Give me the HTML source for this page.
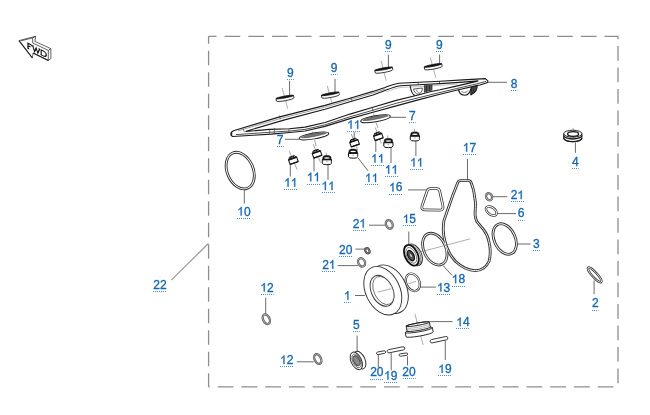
<!DOCTYPE html><html><head><meta charset="utf-8"><title>parts</title><style>
html,body{margin:0;padding:0;background:#fff;}
#c{position:relative;width:650px;height:415px;overflow:hidden;background:#fff;font-family:"Liberation Sans",sans-serif;}
#c svg{position:absolute;left:0;top:0;display:block;filter:blur(0.3px);}
</style></head><body><div id="c">
<svg width="650" height="415" viewBox="0 0 650 415">
<defs>
 <g id="plug">
  <path d="M-4.6,-0.6 V3.2 A4.6,1.4 0 0 0 4.6,3.2 V-0.6 Z" fill="#fff" stroke="#151515" stroke-width="1"/>
  <path d="M-4.1,-0.6 V-2.7 C-4.1,-4 -2.4,-4.5 0,-4.5 C2.4,-4.5 4.1,-4 4.1,-2.7 V-0.6 Z" fill="#151515" stroke="#151515" stroke-width="0.6"/>
  <ellipse cx="0" cy="-2.1" rx="2.9" ry="0.75" fill="#fff"/>
  <path d="M-4.7,-0.4 H4.7" stroke="#151515" stroke-width="1.3" fill="none"/>
  <path d="M4.2,1 V3" stroke="#999" stroke-width="0.8" fill="none"/>
  <path d="M-0.8,1.6 H0.8" stroke="#555" stroke-width="0.5" fill="none"/>
 </g>
 <g id="plugt">
  <path d="M-3.6,-2 L-2.7,-4 H2.7 L3.6,-2 Z" fill="#fff" stroke="#151515" stroke-width="0.9" stroke-linejoin="round"/>
  <path d="M-2.4,-3.4 H2.4" stroke="#151515" stroke-width="0.9"/>
  <rect x="-4.3" y="-1.8" width="8.6" height="4.7" fill="#fff" stroke="#151515" stroke-width="1.05"/>
  <path d="M-4.5,-1.8 H4.5" stroke="#151515" stroke-width="1.5" fill="none"/>
  <path d="M-4.3,2.9 H4.3" stroke="#151515" stroke-width="1.3" fill="none"/>
 </g>
 <g id="disc9">
  <path d="M-8.9,-1.3 V1.2 A8.9,1.2 0 0 0 8.9,1.2 V-1.3 Z" fill="#fff" stroke="#151515" stroke-width="0.8"/>
  <ellipse cx="0" cy="-1.3" rx="8.9" ry="1" fill="#151515" stroke="#151515" stroke-width="0.7"/>
 </g>
 <g id="oval7">
  <path d="M-15,0.3 C-15,-1.4 -10,-2.8 0,-3 C10,-3 15,-2.1 15,-0.3 C15,1.5 10,2.8 0,3 C-10,3.1 -15,2.1 -15,0.3 Z" fill="#fff" stroke="#1c1c1c" stroke-width="0.95"/>
  <path d="M-12.8,-0.3 C-10,-1.8 -4,-2.3 0,-2.3 C5,-2.3 11,-2 13,-0.9 C10,-0.1 5,0.3 0,0.5 C-5,0.7 -10,0.6 -12.8,-0.3Z" fill="#777" stroke="#333" stroke-width="0.5"/>
 </g>
 <path id="p17" d="M460.2,180.7 H468.6 C470.3,180.7 471,181.7 471.4,183.4 C472.7,187 473.8,190 474.2,193.9 C474.6,198 475.5,200.5 475.5,204.5 C475.4,209 474.9,212 475.1,215.1 C475.5,218.5 476.9,221.7 476.9,221.7 L483.6,229.7 C486.5,233.5 488.3,238 488.9,241.6 C490,246 490.4,249 490.2,252.2 C490.2,256 489.8,259 488.9,261.5 C487.5,264.5 486,266.5 483.6,268.1 C481,269.8 478.5,270.6 475.6,270.6 C472,270.6 468.5,269.7 465,268.1 C461,266 458.5,264 455.7,261.5 C453,258.5 450.5,255.5 449.1,252.2 C447,248.5 445.8,245 445.1,241.6 C444,238 443.4,234.5 443.3,231 C443.1,227 443.4,223.5 444,220.4 L447.7,209.8 L453.3,193.9 L457.9,182.3 C458.3,181.1 459,180.7 460.2,180.7 Z"/>
 <path id="p16" d="M430.3,188.7 H436.4 C438.3,188.7 439.3,189.4 439.7,191.1 L442.9,205.8 C443.5,208.7 442.4,210.2 439.8,210.2 L425,209.9 C422.2,209.9 421.2,208.2 422.1,205.6 L427.1,191 C427.7,189.3 428.6,188.7 430.3,188.7 Z"/>
 <ellipse id="r10" cx="240.2" cy="170.6" rx="13" ry="19.1" transform="rotate(-23 240.2 170.6)"/>
 <ellipse id="r18" cx="434.8" cy="249.1" rx="11" ry="16.8" transform="rotate(-25 434.8 249.1)"/>
 <ellipse id="r3" cx="504.7" cy="239" rx="10.5" ry="16.1" transform="rotate(-25 504.7 239)"/>
 <ellipse id="r13" cx="412.8" cy="282.3" rx="6.6" ry="9.1" transform="rotate(-25 412.8 282.3)"/>
 <ellipse id="r6" cx="491.3" cy="211" rx="3.6" ry="6.1" transform="rotate(-55 491.3 211)"/>
 <ellipse id="r2" cx="594.7" cy="274.9" rx="9.8" ry="2.5" transform="rotate(47.6 594.7 274.9)"/>
 <path id="one" d="M4.45,0 H3.4 V-6.7 C2.9,-6.2 2.1,-5.7 1.3,-5.3 V-6.35 C2.4,-6.9 3.4,-7.8 3.8,-8.6 H4.45 Z"/>
</defs>
<rect width="650" height="415" fill="#fff"/>

<!-- dashed box -->
<g id="box" fill="none" stroke="#8e8e8e" stroke-width="1.3">
 <path d="M208.5,36.3 H618.2" stroke-dasharray="15.7 8.05" stroke-dashoffset="7.7"/>
 <path d="M618,36.3 V386.8" stroke-dasharray="14.6 6.9" stroke-dashoffset="11.7"/>
 <path d="M208.6,36.3 V386.8" stroke-dasharray="14.6 6.9" stroke-dashoffset="7.1"/>
 <path d="M208.6,386.8 H618.2" stroke-dasharray="15.8 7.95" stroke-dashoffset="14.65"/>
</g>

<!-- leader lines -->
<g id="leaders" fill="none" stroke="#636363" stroke-width="0.95">
 <path d="M208.4,243.5 L171.2,280.1" stroke="#999" stroke-width="1.2"/>
 <path d="M289.6,80.8 V95.3"/><path d="M335,78.8 V92.7"/><path d="M388.4,54.6 V67.7"/><path d="M439.6,54.6 V64.6"/>
 <path d="M488,82.3 H507"/>
 <path d="M390,117.3 H406"/><path d="M285,139.3 H299.5"/>
 <path d="M290.3,164.5 V176.4"/><path d="M314,158 V171.5"/><path d="M328,164.9 V179.8"/>
 <path d="M354.2,132.1 V138.2"/><path d="M357.8,157.6 L368,170.9"/>
 <path d="M375.8,141 V152"/><path d="M391,147 V163"/><path d="M415.9,141 V156.2"/>
 <path d="M575.4,142.4 V152.9"/>
 <path d="M467.5,159 V180"/>
 <path d="M408,189.9 H426"/>
 <path d="M492.8,196.7 H507.3"/><path d="M497.1,213.6 H516"/><path d="M517.3,244 H530.7"/>
 <path d="M369,225.2 H385.4"/><path d="M355.4,249.1 H364.8"/><path d="M337.7,265.6 H358"/>
 <path d="M408.8,231.5 V245.6"/>
 <path d="M244.3,189.6 V203.5"/>
 <path d="M443,265.5 L452.1,275.5"/>
 <path d="M419.9,287.1 H435.9"/>
 <path d="M355,295.5 H364.8"/>
 <path d="M265.7,297.8 V314.2"/><path d="M296.8,361.8 H313.8"/>
 <path d="M594.1,280.4 V294.2"/>
 <path d="M357.1,335.7 V351.3"/>
 <path d="M429.9,321.6 H452.5"/>
 <path d="M378.3,354.1 V367.4"/><path d="M391.2,353.1 V370.5"/><path d="M407.5,356.2 V365.4"/><path d="M445.3,340.5 V360"/>
</g>

<!-- FWD arrow -->
<g id="fwd" fill="#fff" stroke="#222" stroke-width="0.7" stroke-linejoin="round">
 <path d="M19,40.6 L35.7,36.3 L34.9,41.4 L50.9,48.7 L50.9,58.6 L48.3,60.4 L33.1,53 L32.4,58 Z"/>
 <path d="M21,40.8 L32.7,37.9 L32.7,43 L48.3,50.4 L48.3,60.4" fill="none"/>
 <path d="M48.3,50.4 L50.9,48.7" fill="none"/>
 <path d="M32.7,37.9 L35.7,36.3" fill="none"/>
 <path d="M19,40.6 L32.4,58" fill="none" stroke-width="1.1"/>
 <path d="M33.1,53 L48.3,60.4" fill="none" stroke-width="1.1"/>
 <g transform="matrix(1,0.5,0,1,27.3,47.9)" fill="none" stroke="#111" stroke-linecap="butt" stroke-linejoin="miter">
  <path d="M0.7,0 V-5 M0,-5 H4.3 M0.7,-2.6 H3.2 M0,0 H1.9 M4.2,-5 V-3.8" stroke-width="1.15"/>
  <path d="M5.3,-5 L7.2,0 L8.9,-4.2 L10.5,0 L12.3,-5" stroke-width="1.15"/>
  <path d="M4.9,-5 H6.6 M11.3,-5 H12.8" stroke-width="0.7"/>
  <path d="M13.9,0 V-5 M13.2,-5 H15.6 C18.2,-5 19,-3.4 19,-2.5 C19,-1.6 18.2,0 15.6,0 H13.2" stroke-width="1.15"/>
 </g>
</g>

<!-- gasket 8 -->
<g id="gasket8" fill="none" stroke="#1a1a1a" stroke-width="1.1" stroke-linejoin="round" transform="translate(0,0.6)">
 <!-- boss 2 (behind lower rail) -->
 <path fill="#4a4a4a" d="M471.2,85 L477,83.8 C477.6,88 476.2,92 470.8,94.3 Z"/>
 <path d="M473.6,85 C474,88.5 473.2,91 471.5,93.6" stroke-width="0.6"/>
 <path fill="#fff" d="M458.1,86.8 C458.5,91.6 460.9,94.6 464.6,94.6 C468.4,94.6 471,91.6 471.4,85 Z"/>
 <path d="M461.4,90.4 C462.4,92.4 466.6,92.4 467.9,90" stroke-width="0.6"/>
 <!-- outer -->
 <path fill="#fff" d="M231.3,131.6 L233.5,130.2 L278.8,116.5 L325,104.8 L350,97.6 L373,90.8 L385,86.9 C390,85 394,83.3 399,82.6 L418.8,81.6 L440,80.6 L463,79.3 L485.3,78 L487.9,80.2 L487.6,81.8 L480,84.4 L476.6,85 L456.4,89.7 L440,93.7 L419.2,99 L396.2,105.3 L373,111.6 L350,118 L325,125.8 L305,130.4 L289.6,131.9 L271.2,133.5 L232.7,135.9 L231.3,135 Z"/>
 <!-- inner opening -->
 <path fill="#fff" d="M246,130.6 L284.6,119.3 L325,108.6 L350,101.2 L373,94.4 L385,89.9 C390,88 395,85.8 400,85.1 L418.8,84.1 L440,83 L463,81.5 L478,80.3 L476.6,80.8 L456.4,85.5 L440,89.2 L430,91.2 L419.2,94.2 L396.2,99.8 L373,106.6 L350,113.5 L325,121.9 L305,126.5 L289.6,128.1 L269.6,128.8 L246,130.9 Z"/>
 <path d="M231.4,131.8 V135" stroke-width="1.6"/>
 <!-- mid lines -->
 <path d="M238,130.2 L281.5,117.7 L325,106.5 L350,99.2 L373,92.4 L385,88.4" stroke-width="0.5" stroke="#444"/>
 <path d="M386,91.4 C391,89.6 396,87.5 401,86.8 L418.8,86 L440,84.8 L458,83.4" stroke-width="0.5" stroke="#888"/>
 <path d="M418.2,81.8 V84.2 M439.5,80.8 V83.2" stroke-width="0.7"/>
 <path d="M236,134 L271,131.6 L289.6,130.4 L305,128.8 L325,124.2 L350,116.2 L373,109.6 L396.2,102.7 L419.2,97 L440,91.9 L456.4,88 L476.6,83.3 L486,80.8" stroke-width="0.8" stroke="#222"/>
 <!-- boss 1 (between rails) -->
 <path fill="#fff" d="M410.2,85.2 C410.8,90.3 412.4,93.8 415,95"/>
 <path d="M413.5,88.4 L422.4,87.4 C422.4,91 420.3,93.4 417.8,93.7 C415.7,92.9 414,91 413.5,88.4 Z" stroke-width="0.7"/>
 <path d="M416.2,89 C417,91 418.2,92 419.7,92.5" stroke-width="0.5"/>
 <path fill="#555" stroke="none" d="M424.4,84.6 L432,84.2 L432,89.8 L424.4,92 Z"/>
 <path d="M424.4,84.6 V92 M426.5,84.6 V91.3 M429.5,84.5 V90.5 M432,84.2 V89.8" stroke-width="0.7"/>
 <!-- small ticks -->
 <path d="M243,128 L244.5,131.5 M279.2,114.8 L280.4,118.6 M269.6,128.6 V133.4 M274.4,127.3 V133.6 M289,127.8 V132 M351,96.5 L352,100.2 M372,106.2 L373,110.8" stroke-width="0.6" stroke="#333"/>
</g>

<!-- discs 9 -->
<g fill="none" stroke="#777" stroke-width="0.6">
 <path d="M282.2,88 L287.8,108.8"/><path d="M327.3,85.8 L332,103.5"/><path d="M381.2,60.8 L386.2,80.8"/><path d="M430.4,57.7 L435.8,77.7"/>
</g>
<use href="#disc9" transform="translate(285,98.3) rotate(-10.3)"/>
<use href="#disc9" transform="translate(330.4,95.1) rotate(-10.3)"/>
<use href="#disc9" transform="translate(383.8,70.1) rotate(-10.3)"/>
<use href="#disc9" transform="translate(433.2,66.7) rotate(-10.3)"/>

<!-- ovals 7 -->
<use href="#oval7" transform="translate(314,135.9) rotate(-9)"/>
<use href="#oval7" transform="translate(375.5,118.7) rotate(-9)"/>
<g fill="none" stroke="#666" stroke-width="0.6">
 <path d="M312.4,131.5 L313.3,135.5 M314.6,139.8 L316,146"/><path d="M373.6,113.5 L374.6,117.5 M376,122.5 L378,128"/>
</g>

<!-- plugs 11 -->
<g fill="none" stroke="#666" stroke-width="0.6">
 <path d="M289.2,151.1 L297.1,169.5"/><path d="M313.2,144.2 L320.6,162.6"/><path d="M326,152.6 L326.7,155.7"/>
 <path d="M351.3,134 L357.6,150"/><path d="M375.3,127.5 L381.3,143.5"/><path d="M387.6,135.5 L388,138.5"/><path d="M414.2,128.8 L414.5,131.5"/>
</g>
<use href="#plugt" transform="translate(293.2,160.2) rotate(-19)"/>
<use href="#plugt" transform="translate(316.9,153.9) rotate(-19)"/>
<use href="#plug" transform="translate(326.9,160.1)"/>
<use href="#plugt" transform="translate(354.4,142.8) rotate(-19)"/>
<use href="#plug" transform="translate(353.1,153.6)"/>
<use href="#plugt" transform="translate(378.2,136.4) rotate(-19)"/>
<use href="#plug" transform="translate(388.4,143)"/>
<use href="#plug" transform="translate(414.9,136.4)"/>

<!-- double-line rings -->
<g fill="none" stroke="#303030" stroke-width="2.8" stroke-linejoin="round">
 <use href="#r10"/><use href="#r18"/><use href="#r3"/><use href="#p17"/>
 <use href="#r13" stroke-width="2.3"/><use href="#p16" stroke-width="2.7"/>
 <use href="#r6" stroke-width="2.4"/><use href="#r2" stroke-width="2.2"/>
</g>
<g fill="none" stroke="#fff" stroke-width="0.95" stroke-linejoin="round">
 <use href="#r10"/><use href="#r18"/><use href="#r3"/><use href="#p17"/>
 <use href="#r13" stroke-width="0.9"/><use href="#p16" stroke-width="1.2"/>
 <use href="#r6" stroke-width="1"/><use href="#r2" stroke-width="0.8"/>
</g>

<!-- axis lines lower -->
<g id="axes" fill="none" stroke="#777" stroke-width="0.6">
 <path d="M413.1,253.9 L470,238.9"/><path d="M377.8,292.1 L391.3,288.7"/><path d="M408.3,283.8 L416,281.3"/>
 <path d="M573.2,127.8 V131.4"/>
</g>

<!-- small rings 21, 20, 12 -->
<g fill="none" stroke="#585858" stroke-width="2.3">
 <ellipse cx="489.1" cy="196.7" rx="2.9" ry="3.7" transform="rotate(-25 489.1 196.7)"/>
 <ellipse cx="389.3" cy="224.4" rx="3.2" ry="4.4" transform="rotate(-25 389.3 224.4)"/>
 <ellipse cx="361.6" cy="262.4" rx="3.3" ry="4.3" transform="rotate(-25 361.6 262.4)"/>
 <ellipse cx="266.3" cy="319.2" rx="3.2" ry="5.1" transform="rotate(-25 266.3 319.2)"/>
 <ellipse cx="317.8" cy="359" rx="3.2" ry="5.1" transform="rotate(-25 317.8 359)"/>
 <ellipse cx="367.4" cy="250.7" rx="2" ry="2.7" transform="rotate(-25 367.4 250.7)" stroke="#444" stroke-width="2.2"/>
</g>
<g fill="none" stroke="#a6a6a6" stroke-width="1">
 <ellipse cx="489.1" cy="196.7" rx="2.9" ry="3.7" transform="rotate(-25 489.1 196.7)"/>
 <ellipse cx="389.3" cy="224.4" rx="3.2" ry="4.4" transform="rotate(-25 389.3 224.4)"/>
 <ellipse cx="361.6" cy="262.4" rx="3.3" ry="4.3" transform="rotate(-25 361.6 262.4)"/>
 <ellipse cx="266.3" cy="319.2" rx="3.2" ry="5.1" transform="rotate(-25 266.3 319.2)"/>
 <ellipse cx="317.8" cy="359" rx="3.2" ry="5.1" transform="rotate(-25 317.8 359)"/>
 <ellipse cx="367.4" cy="250.7" rx="2" ry="2.7" transform="rotate(-25 367.4 250.7)" stroke="#8a8a8a" stroke-width="0.8"/>
</g>

<!-- part 4 grommet -->
<g stroke="#151515" stroke-width="0.9" fill="#fff">
 <path d="M563.7,133.7 V138.2 A9.1,3.5 0 0 0 581.9,138.2 V133.7 Z"/>
 <path d="M563.7,138.1 A9.1,3.5 0 0 0 581.9,138.1" fill="none" stroke-width="1.4"/>
 <path d="M563.7,135.5 A9.1,3.5 0 0 0 581.9,135.5" fill="none" stroke-width="1.3"/>
 <ellipse cx="572.8" cy="133.7" rx="9.1" ry="3.5"/>
 <ellipse cx="573.1" cy="134" rx="5.5" ry="2.3" stroke-width="1.3"/>
</g>

<!-- part 15 bearing -->
<g>
 <ellipse cx="414.4" cy="254.8" rx="7" ry="11.6" transform="rotate(-25 414.4 254.8)" fill="#fff" stroke="#222" stroke-width="0.9"/>
 <ellipse cx="413.4" cy="255" rx="6.6" ry="11.2" transform="rotate(-25 413.4 255)" fill="#fff" stroke="#333" stroke-width="0.6"/>
 <ellipse cx="411.4" cy="255.3" rx="6.4" ry="11" transform="rotate(-25 411.4 255.3)" fill="#fff" stroke="#111" stroke-width="1.8"/>
 <ellipse cx="411.3" cy="255.4" rx="4.6" ry="8.4" transform="rotate(-25 411.3 255.4)" fill="none" stroke="#333" stroke-width="0.6"/>
 <ellipse cx="410.9" cy="255.6" rx="2.9" ry="5.6" transform="rotate(-25 410.9 255.6)" fill="#555" stroke="#111" stroke-width="1.3"/>
 <ellipse cx="411" cy="255.6" rx="1.1" ry="2.3" transform="rotate(-25 411 255.6)" fill="#ddd" stroke="#222" stroke-width="0.5"/>
</g>

<!-- part 1 seal -->
<g fill="#fff" stroke="#2a2a2a" stroke-width="0.9">
 <ellipse cx="389.3" cy="289.2" rx="17.1" ry="25.6" transform="rotate(-25.9 389.3 289.2)"/>
 <ellipse cx="382.8" cy="290.7" rx="17.1" ry="25.6" transform="rotate(-25.9 382.8 290.7)"/>
 <ellipse cx="382" cy="290.8" rx="10.6" ry="16.4" transform="rotate(-25.9 382 290.8)"/>
 <ellipse cx="383.4" cy="290.5" rx="9.4" ry="15" transform="rotate(-25.9 383.4 290.5)" stroke-width="0.6"/>
</g>
<path d="M377.8,292.1 L391.3,288.7" stroke="#777" stroke-width="0.6" fill="none"/>

<!-- part 5 small seal -->
<g fill="#fff" stroke="#222" stroke-width="0.95">
 <ellipse cx="359.8" cy="360.1" rx="5.2" ry="9.4" transform="rotate(-25 359.8 360.1)"/>
 <ellipse cx="356.3" cy="360.9" rx="5.2" ry="9.4" transform="rotate(-25 356.3 360.9)"/>
 <ellipse cx="356.6" cy="360.9" rx="3.9" ry="7.3" transform="rotate(-25 356.6 360.9)" stroke-width="0.6"/>
 <ellipse cx="356.6" cy="360.8" rx="2.9" ry="5.3" transform="rotate(-25 356.6 360.8)" fill="#8a8a8a" stroke="#444"/>
</g>

<!-- pills 19/20 -->
<g fill="#fff" stroke="#333" stroke-width="0.9">
 <rect x="-4.6" y="-1.3" width="9.2" height="2.6" rx="1.3" transform="translate(381.1,352.7) rotate(-11)"/>
 <rect x="-8.9" y="-1.6" width="17.8" height="3.2" rx="1.6" transform="translate(396,349.8) rotate(-11.5)"/>
 <rect x="-4.3" y="-1.2" width="8.6" height="2.4" rx="1.2" transform="translate(403.4,354.6) rotate(-8)"/>
 <rect x="-9" y="-1.7" width="18" height="3.4" rx="1.7" transform="translate(439,339.7) rotate(-12)"/>
</g>


<!-- part 14 threaded plug -->
<path d="M414.9,313.8 L423.1,345.1" stroke="#777" stroke-width="0.6" fill="none"/>
<g fill="#fff" stroke="#222" stroke-width="0.9" transform="translate(417.8,324.2) rotate(-10)">
 <path d="M-13.8,6 V10.3 A13.8,1.7 0 0 0 13.8,10.3 V6 Z"/>
 <ellipse cx="0" cy="6" rx="13.8" ry="1.7"/>
 <path d="M-11.8,0 V5 A11.8,1.3 0 0 0 11.8,5 V0 Z"/>
 <path d="M-11.8,1.7 A11.8,1.3 0 0 0 11.8,1.7 M-11.8,3.4 A11.8,1.3 0 0 0 11.8,3.4" fill="none" stroke-width="0.45" stroke="#666"/>
 <ellipse cx="0" cy="0" rx="11.8" ry="1.2"/>
 <path d="M-11.8,0 A11.8,1.2 0 0 1 11.8,0" fill="none" stroke-width="1.1"/>
</g>
<path d="M416.9,321.5 L418,325.8" stroke="#777" stroke-width="0.6" fill="none"/>
<g id="labels" font-family="Liberation Sans, sans-serif" font-size="12.0" fill="#1467b2" stroke="#1467b2" stroke-width="0.32">
<text x="287.06" y="76.50">9</text>
<path d="M287.00,79.5 H293.74" fill="none" stroke-width="1" stroke-opacity="0.75" stroke-dasharray="1 1"/>
<text x="330.86" y="72.20">9</text>
<path d="M331.00,74.5 H337.54" fill="none" stroke-width="1" stroke-opacity="0.75" stroke-dasharray="1 1"/>
<text x="385.06" y="48.80">9</text>
<path d="M385.00,51.5 H391.74" fill="none" stroke-width="1" stroke-opacity="0.75" stroke-dasharray="1 1"/>
<text x="435.96" y="48.80">9</text>
<path d="M436.00,51.5 H442.64" fill="none" stroke-width="1" stroke-opacity="0.75" stroke-dasharray="1 1"/>
<text x="510.66" y="87.50">8</text>
<path d="M511.00,90.5 H517.34" fill="none" stroke-width="1" stroke-opacity="0.75" stroke-dasharray="1 1"/>
<text x="408.96" y="120.20">7</text>
<path d="M409.00,122.5 H415.64" fill="none" stroke-width="1" stroke-opacity="0.75" stroke-dasharray="1 1"/>
<text x="276.86" y="143.80">7</text>
<path d="M277.00,146.5 H283.54" fill="none" stroke-width="1" stroke-opacity="0.75" stroke-dasharray="1 1"/>
<use href="#one" x="347.13" y="128.80"/>
<use href="#one" x="353.80" y="128.80"/>
<path d="M347.00,131.5 H360.47" fill="none" stroke-width="1" stroke-opacity="0.75" stroke-dasharray="1 1"/>
<use href="#one" x="284.13" y="186.70"/>
<use href="#one" x="290.80" y="186.70"/>
<path d="M284.00,189.5 H297.47" fill="none" stroke-width="1" stroke-opacity="0.75" stroke-dasharray="1 1"/>
<use href="#one" x="306.83" y="181.20"/>
<use href="#one" x="313.50" y="181.20"/>
<path d="M307.00,184.5 H320.17" fill="none" stroke-width="1" stroke-opacity="0.75" stroke-dasharray="1 1"/>
<use href="#one" x="321.43" y="190.00"/>
<use href="#one" x="328.10" y="190.00"/>
<path d="M322.00,192.5 H334.77" fill="none" stroke-width="1" stroke-opacity="0.75" stroke-dasharray="1 1"/>
<use href="#one" x="364.93" y="182.00"/>
<use href="#one" x="371.60" y="182.00"/>
<path d="M365.00,184.5 H378.27" fill="none" stroke-width="1" stroke-opacity="0.75" stroke-dasharray="1 1"/>
<use href="#one" x="371.03" y="162.60"/>
<use href="#one" x="377.70" y="162.60"/>
<path d="M371.00,165.5 H384.37" fill="none" stroke-width="1" stroke-opacity="0.75" stroke-dasharray="1 1"/>
<use href="#one" x="384.73" y="173.70"/>
<use href="#one" x="391.40" y="173.70"/>
<path d="M385.00,176.5 H398.07" fill="none" stroke-width="1" stroke-opacity="0.75" stroke-dasharray="1 1"/>
<use href="#one" x="410.03" y="166.50"/>
<use href="#one" x="416.70" y="166.50"/>
<path d="M410.00,169.5 H423.37" fill="none" stroke-width="1" stroke-opacity="0.75" stroke-dasharray="1 1"/>
<text x="571.96" y="165.60">4</text>
<path d="M572.00,168.5 H578.64" fill="none" stroke-width="1" stroke-opacity="0.75" stroke-dasharray="1 1"/>
<use href="#one" x="462.73" y="151.50"/>
<text x="469.40" y="151.50">7</text>
<path d="M463.00,154.5 H476.07" fill="none" stroke-width="1" stroke-opacity="0.75" stroke-dasharray="1 1"/>
<use href="#one" x="389.03" y="191.40"/>
<text x="395.70" y="191.40">6</text>
<path d="M389.00,194.5 H402.37" fill="none" stroke-width="1" stroke-opacity="0.75" stroke-dasharray="1 1"/>
<text x="510.63" y="199.10">2</text>
<use href="#one" x="517.30" y="199.10"/>
<path d="M511.00,201.5 H523.97" fill="none" stroke-width="1" stroke-opacity="0.75" stroke-dasharray="1 1"/>
<text x="352.63" y="227.50">2</text>
<use href="#one" x="359.30" y="227.50"/>
<path d="M353.00,230.5 H365.97" fill="none" stroke-width="1" stroke-opacity="0.75" stroke-dasharray="1 1"/>
<text x="322.13" y="268.70">2</text>
<use href="#one" x="328.80" y="268.70"/>
<path d="M322.00,271.5 H335.47" fill="none" stroke-width="1" stroke-opacity="0.75" stroke-dasharray="1 1"/>
<text x="517.86" y="217.30">6</text>
<path d="M518.00,220.5 H524.54" fill="none" stroke-width="1" stroke-opacity="0.75" stroke-dasharray="1 1"/>
<use href="#one" x="402.63" y="223.00"/>
<text x="409.30" y="223.00">5</text>
<path d="M403.00,225.5 H415.97" fill="none" stroke-width="1" stroke-opacity="0.75" stroke-dasharray="1 1"/>
<text x="533.06" y="247.70">3</text>
<path d="M533.00,250.5 H539.74" fill="none" stroke-width="1" stroke-opacity="0.75" stroke-dasharray="1 1"/>
<text x="339.03" y="253.50">2</text>
<text x="345.70" y="253.50">0</text>
<path d="M339.00,256.5 H352.37" fill="none" stroke-width="1" stroke-opacity="0.75" stroke-dasharray="1 1"/>
<use href="#one" x="237.23" y="215.50"/>
<text x="243.90" y="215.50">0</text>
<path d="M237.00,218.5 H250.57" fill="none" stroke-width="1" stroke-opacity="0.75" stroke-dasharray="1 1"/>
<use href="#one" x="451.73" y="283.20"/>
<text x="458.40" y="283.20">8</text>
<path d="M452.00,286.5 H465.07" fill="none" stroke-width="1" stroke-opacity="0.75" stroke-dasharray="1 1"/>
<use href="#one" x="436.93" y="291.50"/>
<text x="443.60" y="291.50">3</text>
<path d="M437.00,294.5 H450.27" fill="none" stroke-width="1" stroke-opacity="0.75" stroke-dasharray="1 1"/>
<use href="#one" x="343.96" y="299.70"/>
<path d="M344.00,302.5 H350.64" fill="none" stroke-width="1" stroke-opacity="0.75" stroke-dasharray="1 1"/>
<text x="153.23" y="288.90">2</text>
<text x="159.90" y="288.90">2</text>
<path d="M153.00,291.5 H166.57" fill="none" stroke-width="1" stroke-opacity="0.75" stroke-dasharray="1 1"/>
<use href="#one" x="260.33" y="291.50"/>
<text x="267.00" y="291.50">2</text>
<path d="M261.00,294.5 H273.67" fill="none" stroke-width="1" stroke-opacity="0.75" stroke-dasharray="1 1"/>
<use href="#one" x="280.03" y="364.00"/>
<text x="286.70" y="364.00">2</text>
<path d="M280.00,366.5 H293.37" fill="none" stroke-width="1" stroke-opacity="0.75" stroke-dasharray="1 1"/>
<text x="591.96" y="307.30">2</text>
<path d="M592.00,310.5 H598.64" fill="none" stroke-width="1" stroke-opacity="0.75" stroke-dasharray="1 1"/>
<text x="353.06" y="328.90">5</text>
<path d="M353.00,331.5 H359.74" fill="none" stroke-width="1" stroke-opacity="0.75" stroke-dasharray="1 1"/>
<use href="#one" x="456.23" y="326.10"/>
<text x="462.90" y="326.10">4</text>
<path d="M456.00,328.5 H469.57" fill="none" stroke-width="1" stroke-opacity="0.75" stroke-dasharray="1 1"/>
<text x="370.13" y="376.30">2</text>
<text x="376.80" y="376.30">0</text>
<path d="M370.00,379.5 H383.47" fill="none" stroke-width="1" stroke-opacity="0.75" stroke-dasharray="1 1"/>
<use href="#one" x="384.03" y="379.50"/>
<text x="390.70" y="379.50">9</text>
<path d="M384.00,382.5 H397.37" fill="none" stroke-width="1" stroke-opacity="0.75" stroke-dasharray="1 1"/>
<text x="402.33" y="376.10">2</text>
<text x="409.00" y="376.10">0</text>
<path d="M403.00,378.5 H415.67" fill="none" stroke-width="1" stroke-opacity="0.75" stroke-dasharray="1 1"/>
<use href="#one" x="438.23" y="373.00"/>
<text x="444.90" y="373.00">9</text>
<path d="M438.00,375.5 H451.57" fill="none" stroke-width="1" stroke-opacity="0.75" stroke-dasharray="1 1"/>
</g>
</svg>

</div></body></html>
